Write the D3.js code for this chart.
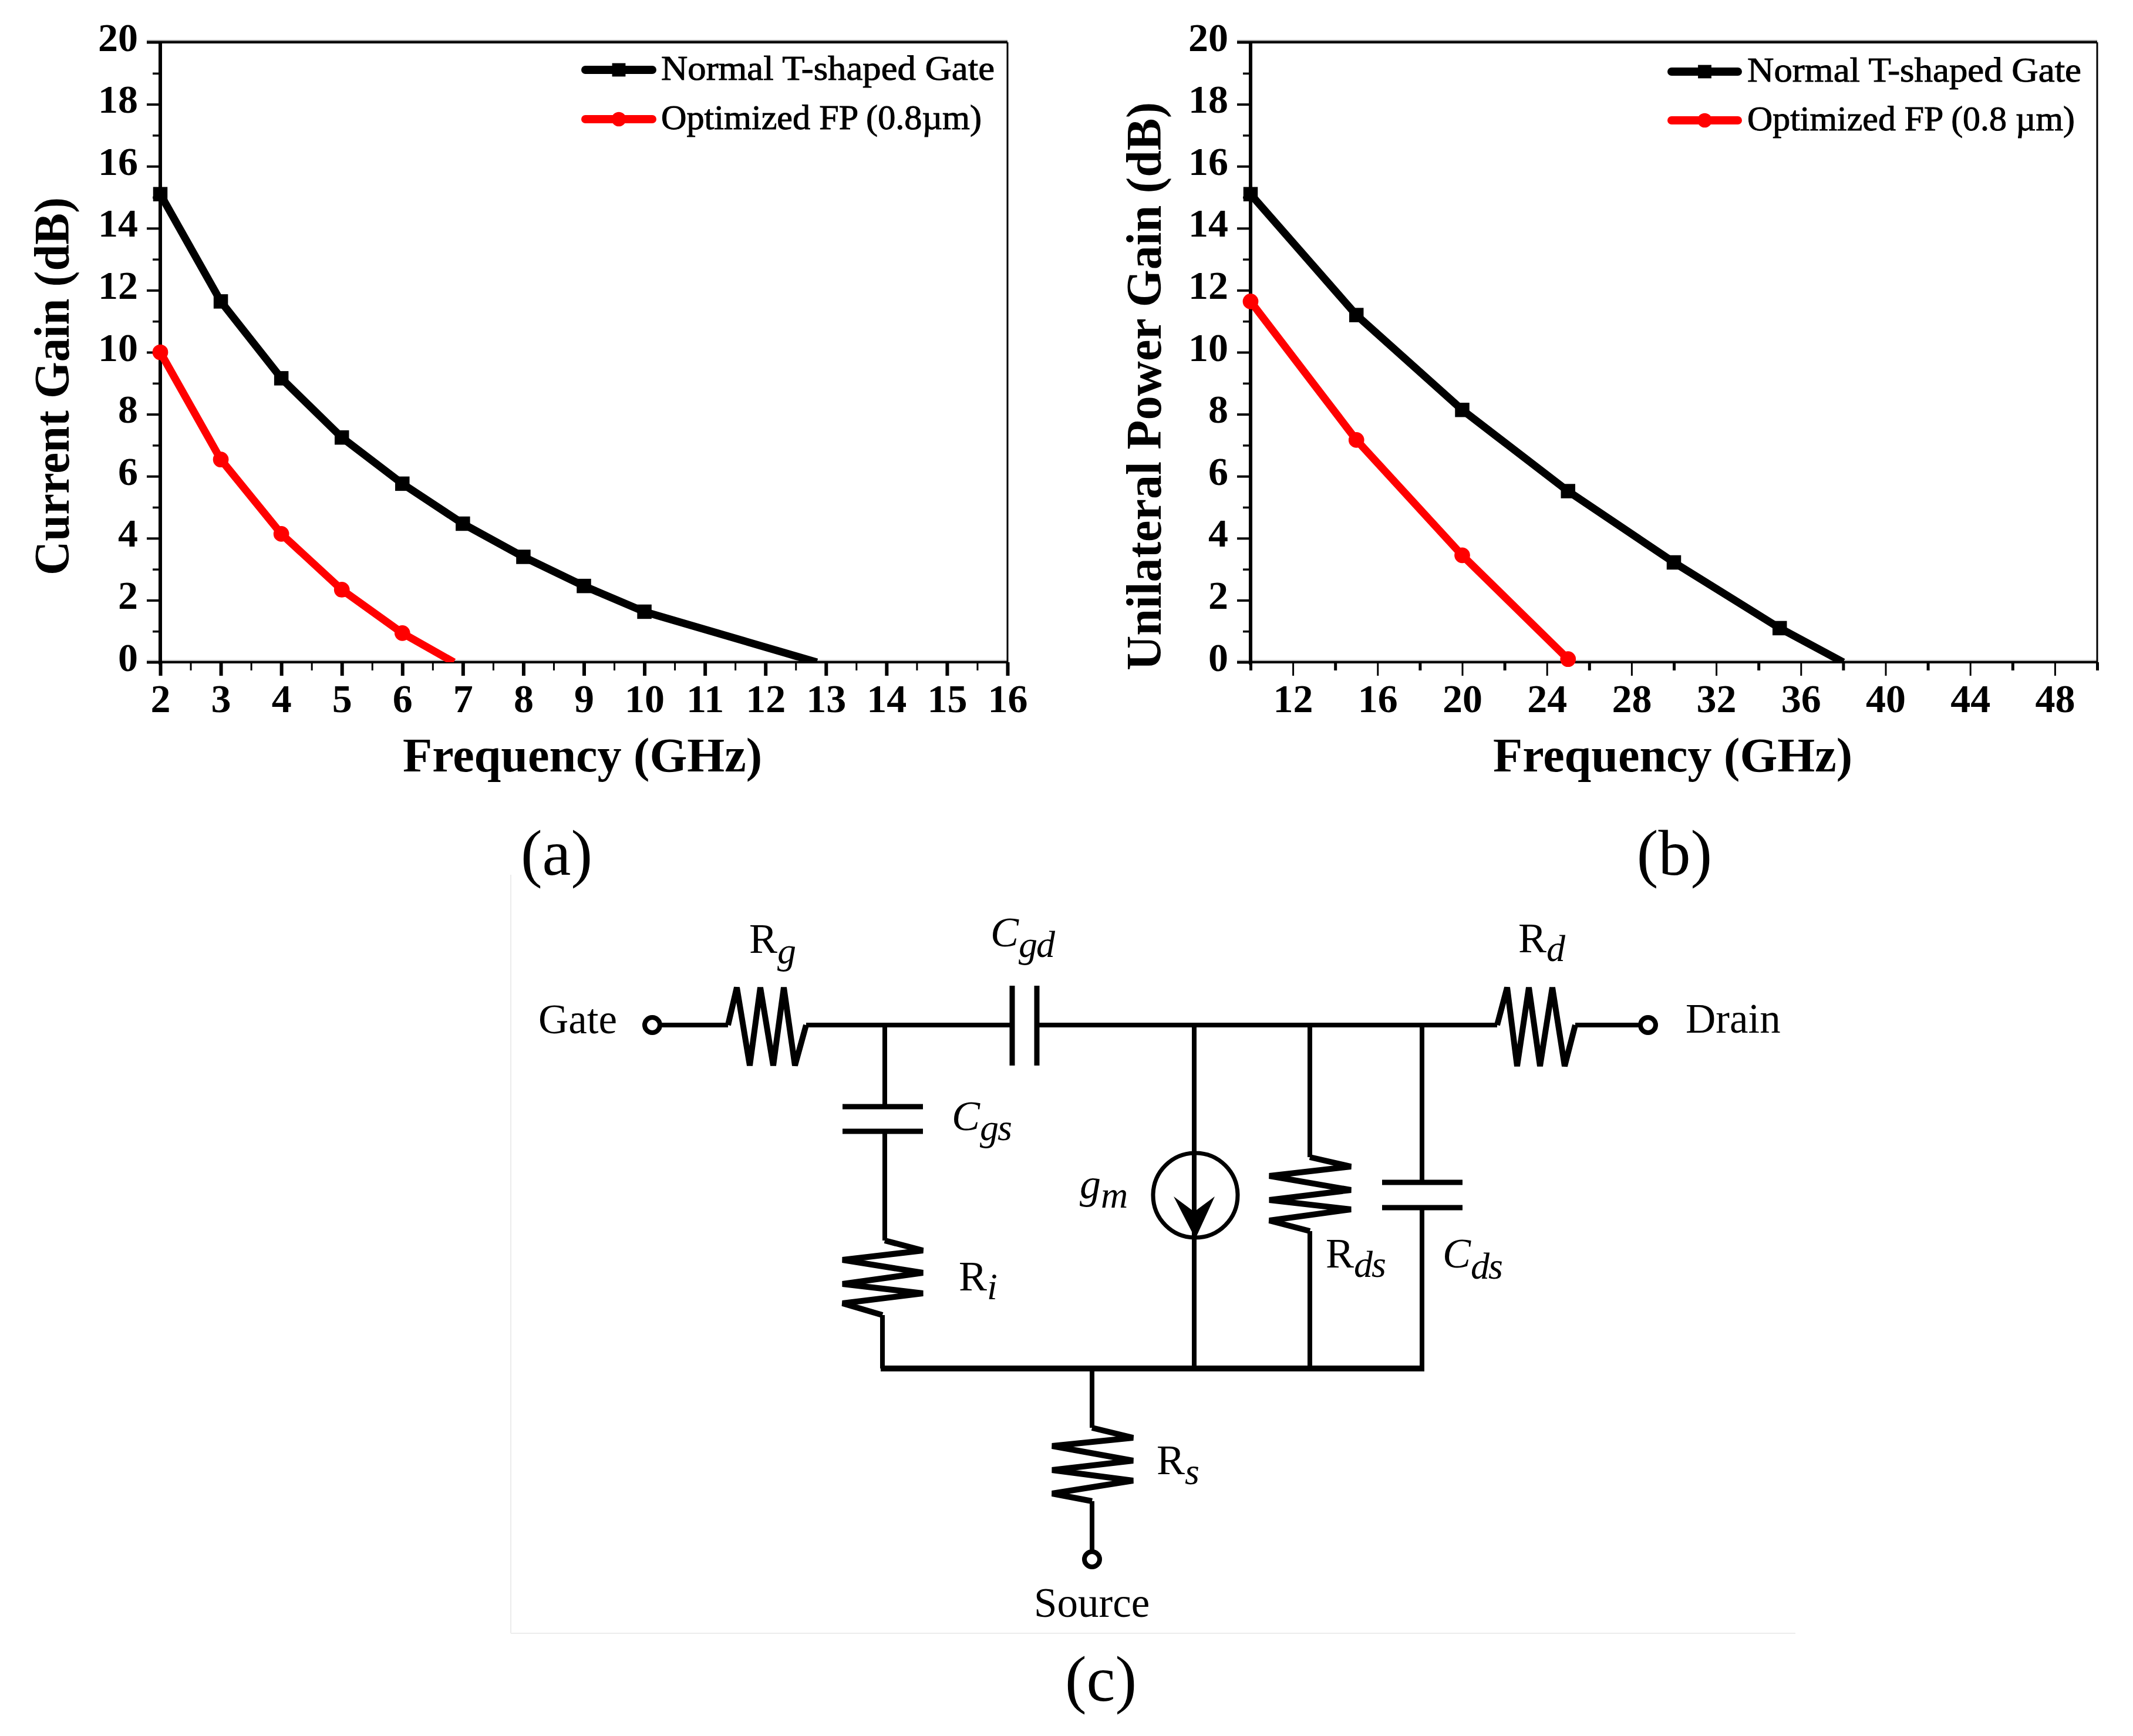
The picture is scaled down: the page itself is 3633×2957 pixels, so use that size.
<!DOCTYPE html>
<html><head><meta charset="utf-8">
<script src="https://cdnjs.cloudflare.com/ajax/libs/d3/7.8.5/d3.min.js"></script>
<style>html,body{margin:0;background:#fff}svg{display:block}text{font-family:"Liberation Serif",serif;fill:#000}</style>
</head><body><svg id="c" width="3633" height="2957"></svg>
<script>
// ---- data ----
const seriesNames = ["Normal T-shaped Gate", "Optimized FP (0.8\u00b5m)"];
const seriesNamesB = ["Normal T-shaped Gate", "Optimized FP (0.8 \u00b5m)"];
const freqNormalA = [2,3,4,5,6,7,8,9,10,12.85];
const gainNormalA = [15.1,11.64,9.16,7.25,5.76,4.47,3.4,2.46,1.63,0];
const markedNormalA = 9;
const freqOptA = [2,3,4,5,6,6.85];
const gainOptA = [10.0,6.54,4.14,2.34,0.94,0];
const markedOptA = 5;
const freqNormalB = [10,15,20,25,30,35,38];
const gainNormalB = [15.1,11.2,8.14,5.52,3.22,1.1,0];
const markedNormalB = 6;
const freqOptB = [10,15,20,25];
const gainOptB = [11.64,7.17,3.45,0.1];
const markedOptB = 4;
const yMajor = [0,2,4,6,8,10,12,14,16,18,20];
const yMinor = [1,3,5,7,9,11,13,15,17,19];
const xMajorA = [2,3,4,5,6,7,8,9,10,11,12,13,14,15,16];
const xMinorA = [2.5,3.5,4.5,5.5,6.5,7.5,8.5,9.5,10.5,11.5,12.5,13.5,14.5,15.5];
const xMajorB = [12,16,20,24,28,32,36,40,44,48];
const xMinorB = [10,14,18,22,26,30,34,38,42,46,50];

const svg = d3.select("#c");
const BLACK="#000", RED="#ff0000";
const defs = svg.append("defs");

function panel(o){
  const g = svg.append("g");
  const x = d3.scaleLinear().domain(o.xDomain).range([o.left,o.right]);
  const y = d3.scaleLinear().domain([0,20]).range([o.bottom,o.top]);
  defs.append("clipPath").attr("id",o.id).append("rect").attr("x",o.left-40).attr("y",o.top).attr("width",o.right-o.left+80).attr("height",o.bottom-o.top);
  // soft anti-aliased edge above the horizontal frame lines
  g.append("line").attr("x1",o.left-23).attr("x2",o.right).attr("y1",o.top-3).attr("y2",o.top-3).attr("stroke","#999").attr("stroke-width",2);
  g.append("line").attr("x1",o.left-23).attr("x2",o.right).attr("y1",o.bottom-3).attr("y2",o.bottom-3).attr("stroke","#bbb").attr("stroke-width",2);
  // frame
  g.append("line").attr("x1",o.right).attr("x2",o.right).attr("y1",o.top).attr("y2",o.bottom).attr("stroke","#000").attr("stroke-width",3);
  g.append("line").attr("x1",o.left-23).attr("x2",o.right).attr("y1",o.top).attr("y2",o.top).attr("stroke","#000").attr("stroke-width",4);
  const styleAxis = w => s => { s.select(".domain").attr("stroke","none"); s.selectAll(".tick line").attr("stroke-width",w); };
  // minor axes
  g.append("g").attr("transform",`translate(${o.left},0)`).call(d3.axisLeft(y).tickValues(yMinor).tickSize(13).tickFormat("")).call(styleAxis(3.5));
  g.append("g").attr("transform",`translate(0,${o.bottom})`).call(d3.axisBottom(x).tickValues(o.xMinor).tickSize(14).tickFormat("")).call(styleAxis(o.wMinor));
  // major axes
  const ya = g.append("g").attr("transform",`translate(${o.left},0)`).call(d3.axisLeft(y).tickValues(yMajor).tickSize(23).tickPadding(15).tickFormat(d3.format("d"))).call(styleAxis(4));
  ya.selectAll("text").attr("font-size",68).attr("font-weight","bold").attr("font-family","Liberation Serif").attr("dy","0").attr("y",14);
  const xa = g.append("g").attr("transform",`translate(0,${o.bottom})`).call(d3.axisBottom(x).tickValues(o.xMajor).tickSize(23).tickFormat(d3.format("d"))).call(styleAxis(o.wMajor));
  xa.selectAll("text").attr("font-size",68).attr("font-weight","bold").attr("font-family","Liberation Serif").attr("dy","0").attr("y",85);
  // solid frame edges
  g.append("line").attr("x1",o.left).attr("x2",o.left).attr("y1",o.top).attr("y2",o.bottom+4).attr("stroke","#000").attr("stroke-width",6);
  g.append("line").attr("x1",o.left-23).attr("x2",o.right).attr("y1",o.bottom).attr("y2",o.bottom).attr("stroke","#000").attr("stroke-width",4);
  // series
  const line = d3.line().x(d=>x(d[0])).y(d=>y(d[1]));
  const draw=(xs,ys,n,color,sym)=>{
    const pts = xs.map((v,i)=>[v,ys[i]]);
    g.append("path").datum(pts).attr("d",line).attr("fill","none").attr("stroke",color).attr("stroke-width",13).attr("stroke-linejoin","round").attr("clip-path",`url(#${o.id})`);
    g.selectAll(null).data(pts.slice(0,n)).join("path")
      .attr("transform",d=>`translate(${x(d[0])},${y(d[1])})`)
      .attr("d",d3.symbol().type(sym).size(sym===d3.symbolSquare?600:560)).attr("fill",color);
  };
  draw(o.s1x,o.s1y,o.n1,BLACK,d3.symbolSquare);
  draw(o.s2x,o.s2y,o.n2,RED,d3.symbolCircle);
  // legend
  const leg=(yl,base,color,sym,name,xEnd)=>{
    g.append("line").attr("x1",o.legX0).attr("x2",o.legX1).attr("y1",yl).attr("y2",yl).attr("stroke",color).attr("stroke-width",14).attr("stroke-linecap","round");
    g.append("path").attr("transform",`translate(${(o.legX0+o.legX1)/2},${yl})`)
      .attr("d",d3.symbol().type(sym).size(sym===d3.symbolSquare?520:480)).attr("fill",color);
    g.append("text").attr("x",o.legT).attr("y",base).attr("font-size",60)
      .attr("stroke","#000").attr("stroke-width",1)
      .attr("textLength",xEnd-o.legT).attr("lengthAdjust","spacingAndGlyphs").text(name);
  };
  leg(o.leg1,o.leg1+17,BLACK,d3.symbolSquare,o.names[0],o.end1);
  leg(o.leg2,o.leg2+17,RED,d3.symbolCircle,o.names[1],o.end2);
  // titles
  g.append("text").attr("x",o.xTitleC).attr("y",1314).attr("text-anchor","middle").attr("font-size",82).attr("font-weight","bold")
    .attr("textLength",612).attr("lengthAdjust","spacingAndGlyphs").text("Frequency (GHz)");
  g.append("text").attr("transform",`translate(${o.yTitleX},${o.yTitleC}) rotate(-90)`).attr("text-anchor","middle").attr("font-size",84).attr("font-weight","bold")
    .attr("textLength",o.yTitleLen).attr("lengthAdjust","spacingAndGlyphs").text(o.yTitle);
  g.append("text").attr("x",o.tagX).attr("y",1490).attr("text-anchor","middle").attr("font-size",110).text(o.tag);
}

panel({id:"clipA",left:273,right:1716,top:72,bottom:1128,wMajor:6,wMinor:3,xDomain:[2,16],xMajor:xMajorA,xMinor:xMinorA,
  s1x:freqNormalA,s1y:gainNormalA,n1:markedNormalA,s2x:freqOptA,s2y:gainOptA,n2:markedOptA,
  legX0:997,legX1:1111,leg1:119,leg2:203,legT:1126,end1:1694,end2:1672,names:seriesNames,
  xTitleC:992,yTitle:"Current Gain (dB)",yTitleX:117,yTitleC:658,yTitleLen:644,tag:"(a)",tagX:948});
panel({id:"clipB",left:2130,right:3572,top:72,bottom:1128,wMajor:3,wMinor:5,xDomain:[10,50],xMajor:xMajorB,xMinor:xMinorB,
  s1x:freqNormalB,s1y:gainNormalB,n1:markedNormalB,s2x:freqOptB,s2y:gainOptB,n2:markedOptB,
  legX0:2847,legX1:2960,leg1:122,leg2:205,legT:2976,end1:3545,end2:3534,names:seriesNamesB,
  xTitleC:2849,yTitle:"Unilateral Power Gain (dB)",yTitleX:1977,yTitleC:658,yTitleLen:968,tag:"(b)",tagX:2852});

// ---- equivalent circuit (schematic) ----
const cg = svg.append("g");
cg.append("path").attr("d","M870,2782V1490M870,2782H3058").attr("fill","none").attr("stroke","#ececec").attr("stroke-width",2);
const wire = d3.line();
const W=(pts,w=8)=>cg.append("path").attr("d",wire(pts)).attr("fill","none").attr("stroke","#000").attr("stroke-width",w).attr("stroke-linejoin","miter");
// wires
W([[1127,1746],[1240,1746]]);
W([[1373,1746],[1724,1746]]);
W([[1766,1746],[2550,1746]]);
W([[2683,1746],[2791,1746]]);
W([[1507,1746],[1507,1885]]);
W([[1507,1927],[1507,2113]]);
W([[1503,2240],[1503,2331]]);
W([[1500,2331],[2426,2331]],10);
W([[2034,1746],[2034,2331]]);
W([[2231,1746],[2231,1971]]);
W([[2231,2097],[2231,2331]]);
W([[2422,1746],[2422,2014]]);
W([[2422,2057],[2422,2331]]);
W([[1860,2331],[1860,2432]]);
W([[1860,2557],[1860,2640]]);
// capacitors
[[1724,1679,1724,1815],[1766,1679,1766,1815],[1435,1885,1572,1885],[1435,1927,1572,1927],[2354,2014,2491,2014],[2354,2057,2491,2057],].forEach(p=>W([[p[0],p[1]],[p[2],p[3]]],9));
// resistors
W([[1240,1746],[1255,1682],[1277,1815],[1295,1682],[1317,1815],[1335,1682],[1354,1815],[1373,1746]],10);
W([[2550,1746],[2567,1682],[2584,1816],[2604,1682],[2623,1816],[2644,1682],[2665,1816],[2683,1746]],10);
W([[1507,2113],[1572,2130],[1435,2146],[1572,2168],[1435,2187],[1572,2203],[1435,2220],[1503,2240]],10);
W([[2231,1971],[2301,1987],[2162,2003],[2301,2027],[2162,2044],[2301,2060],[2162,2079],[2231,2097]],10);
W([[1860,2432],[1930,2449],[1792,2463],[1930,2488],[1792,2504],[1930,2522],[1792,2544],[1860,2557]],10);
// terminals
[[1111,1746],[2807,1746],[1860,2656]].forEach(p=>cg.append("circle").attr("cx",p[0]).attr("cy",p[1]).attr("r",13).attr("fill","#fff").attr("stroke","#000").attr("stroke-width",8));
// current source
cg.append("circle").attr("cx",2036).attr("cy",2036).attr("r",72).attr("fill","none").attr("stroke","#000").attr("stroke-width",7);
cg.append("path").attr("d","M1999,2038L2034,2064L2069,2038L2036,2110Z").attr("fill","#000");
// labels
const T=(x,y,txt,anchor="start")=>cg.append("text").attr("x",x).attr("y",y).attr("font-size",71).attr("text-anchor",anchor).text(txt);
const S=(x,y,main,sub,mainIt,dy)=>{
  const t=cg.append("text").attr("x",x).attr("y",y).attr("font-size",72);
  t.append("tspan").attr("font-style",mainIt?"italic":"normal").text(main);
  t.append("tspan").attr("font-style","italic").attr("font-size",64).attr("letter-spacing",-2).attr("dy",dy).text(sub);
};
T(917,1760,"Gate");T(2871,1759,"Drain");T(1761,2754,"Source");
S(1276,1623,"R","g",false,18);S(1687,1612,"C","gd",true,18);S(1621,1925,"C","gs",true,17);S(1633,2198,"R","i",false,15);
S(2586,1622,"R","d",false,15);S(2258,2159,"R","ds",false,16);S(2457,2159,"C","ds",true,19);S(1970,2511,"R","s",false,17);
S(1839,2041,"g","m",true,16);
cg.append("text").attr("x",1875).attr("y",2897).attr("text-anchor","middle").attr("font-size",110).text("(c)");
</script></body></html>
